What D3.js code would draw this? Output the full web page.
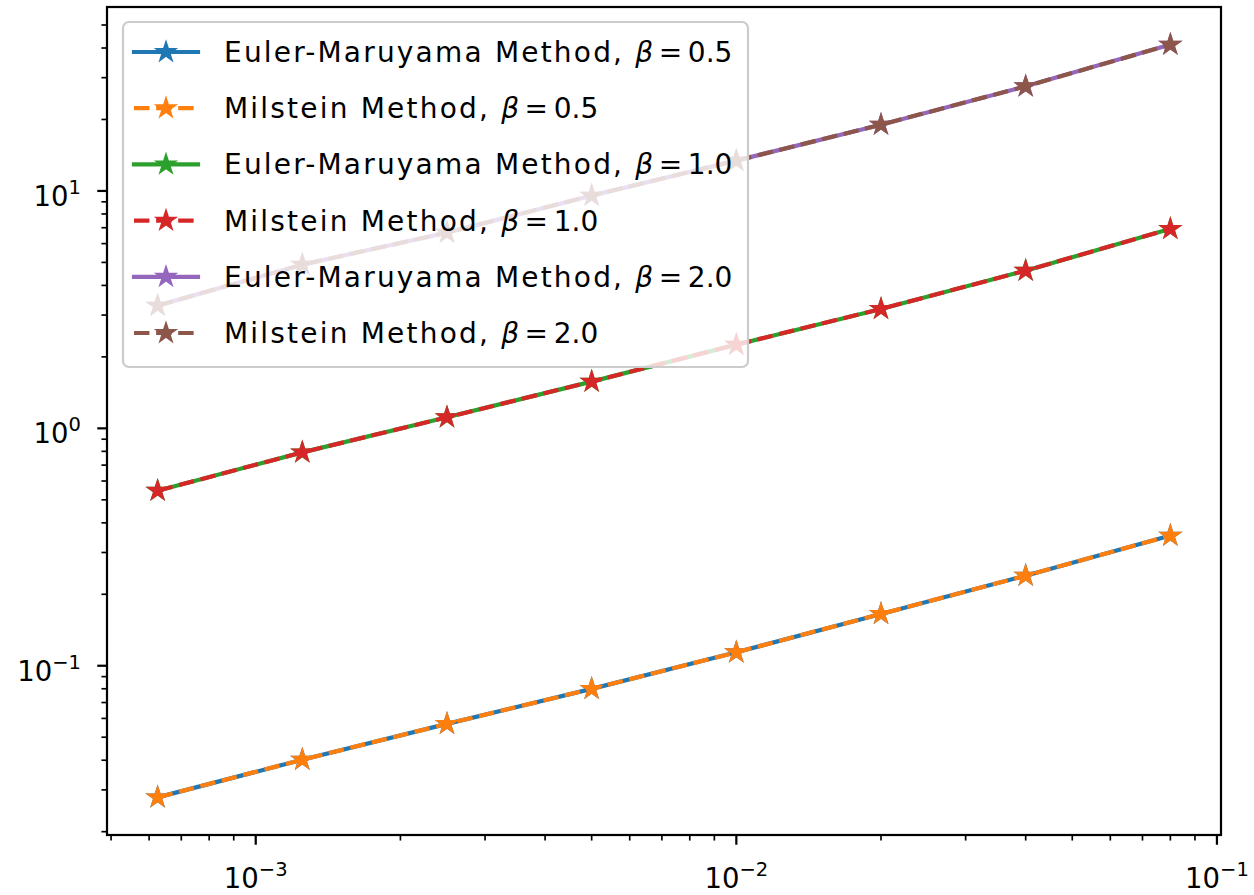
<!DOCTYPE html>
<html><head><meta charset="utf-8">
<script src="https://cdn.jsdelivr.net/npm/d3@7"></script>
<style>body{margin:0;background:#fff} text{font-family:"DejaVu Sans",sans-serif;fill:#000}</style>
</head><body><svg id="c" width="1254" height="895"></svg>
<script>
// ---- data ----
const stepSizes = [0.000625, 0.00125, 0.0025, 0.005, 0.01, 0.02, 0.04, 0.08];
const emBeta05  = [0.0279, 0.0402, 0.0569, 0.0799, 0.1139, 0.1653, 0.2396, 0.3532];
const milBeta05 = [0.0279, 0.0402, 0.0569, 0.0799, 0.1139, 0.1653, 0.2396, 0.3532];
const emBeta10  = [0.546, 0.792, 1.113, 1.573, 2.252, 3.184, 4.616, 6.918];
const milBeta10 = [0.546, 0.792, 1.113, 1.573, 2.252, 3.184, 4.616, 6.918];
const emBeta20  = [3.288, 4.893, 6.674, 9.554, 13.42, 19.02, 27.58, 41.33];
const milBeta20 = [3.288, 4.893, 6.674, 9.554, 13.42, 19.02, 27.58, 41.33];
const methodNames = ["Euler-Maruyama Method", "Milstein Method", "Euler-Maruyama Method", "Milstein Method", "Euler-Maruyama Method", "Milstein Method"];
const betaLabels = ["0.5", "0.5", "1.0", "1.0", "2.0", "2.0"];
const xTickValues = [1e-3, 1e-2, 1e-1];
const xTickExponents = ["\u22123", "\u22122", "\u22121"];
const yTickValues = [1e-1, 1, 10];
const yTickExponents = ["\u22121", "0", "1"];

const seriesValues = [emBeta05, milBeta05, emBeta10, milBeta10, emBeta20, milBeta20];
const colors = ["#1f77b4", "#ff7f0e", "#2ca02c", "#d62728", "#9467bd", "#8c564b"];
const dashed = [false, true, false, true, false, true];

// ---- layout ----
const PT = 2.78;
const L = 107, R = 1221, T = 7, B = 835;
const svg = d3.select("#c");

function logDomain(vals) {
  const lo = Math.log10(d3.min(vals)), hi = Math.log10(d3.max(vals));
  const m = (hi - lo) * 0.05;
  return [Math.pow(10, lo - m), Math.pow(10, hi + m)];
}
const x = d3.scaleLog().domain(logDomain(stepSizes)).range([L, R]);
const y = d3.scaleLog().domain(logDomain(seriesValues.flat())).range([B, T]);

function minorTicks(scale) {
  const [a, b] = scale.domain();
  const out = [];
  for (let k = Math.floor(Math.log10(a)); k <= Math.ceil(Math.log10(b)); k++) {
    for (let m = 2; m <= 9; m++) {
      const v = m * Math.pow(10, k);
      if (v >= a && v <= b) out.push(v);
    }
  }
  return out;
}

function starPath(Ro) {
  const ri = Ro * 0.381966;
  const p = [];
  for (let i = 0; i < 10; i++) {
    const ang = -Math.PI / 2 + i * Math.PI / 5;
    const rr = i % 2 ? ri : Ro;
    p.push([rr * Math.cos(ang), rr * Math.sin(ang)]);
  }
  return "M" + p.map(d => d[0].toFixed(2) + "," + d[1].toFixed(2)).join("L") + "Z";
}
const star = starPath(3 * PT);

// ---- series ----
const line = d3.line().x((d, i) => x(stepSizes[i])).y(d => y(d));
const gData = svg.append("g");
seriesValues.forEach((vals, s) => {
  gData.append("path")
    .attr("d", line(vals))
    .attr("fill", "none")
    .attr("stroke", colors[s])
    .attr("stroke-width", 1.5 * PT)
    .attr("stroke-linejoin", "round")
    .attr("stroke-linecap", dashed[s] ? "butt" : "square")
    .attr("stroke-dasharray", dashed[s] ? `${3.7 * 1.5 * PT},${1.6 * 1.5 * PT}` : null);
  vals.forEach((v, i) => {
    gData.append("path")
      .attr("d", star)
      .attr("transform", `translate(${x(stepSizes[i])},${y(v)})`)
      .attr("fill", colors[s])
      .attr("stroke", colors[s])
      .attr("stroke-width", 1 * PT)
      .attr("stroke-linejoin", "miter");
  });
});

// ---- axes ----
const gAx = svg.append("g");
gAx.append("rect").attr("x", L).attr("y", T).attr("width", R - L).attr("height", B - T)
  .attr("fill", "none").attr("stroke", "#000").attr("stroke-width", 0.8 * PT);

xTickValues.forEach((v, i) => {
  const px = x(v);
  gAx.append("line").attr("x1", px).attr("x2", px).attr("y1", B).attr("y2", B + 3.5 * PT)
    .attr("stroke", "#000").attr("stroke-width", 0.8 * PT);
  const t = gAx.append("text").attr("x", px).attr("y", 888).attr("text-anchor", "middle")
    .attr("font-size", 27.5);
  t.append("tspan").text("10");
  t.append("tspan").attr("font-size", 19.5).attr("dy", -12).text(xTickExponents[i]);
});
minorTicks(x).forEach(v => {
  const px = x(v);
  gAx.append("line").attr("x1", px).attr("x2", px).attr("y1", B).attr("y2", B + 2 * PT)
    .attr("stroke", "#000").attr("stroke-width", 0.6 * PT);
});
yTickValues.forEach((v, i) => {
  const py = y(v);
  gAx.append("line").attr("x1", L).attr("x2", L - 3.5 * PT).attr("y1", py).attr("y2", py)
    .attr("stroke", "#000").attr("stroke-width", 0.8 * PT);
  const t = gAx.append("text").attr("x", 81).attr("y", py + 15).attr("text-anchor", "end")
    .attr("font-size", 27.5);
  t.append("tspan").text("10");
  t.append("tspan").attr("font-size", 19.5).attr("dy", -12).text(yTickExponents[i]);
});
minorTicks(y).forEach(v => {
  const py = y(v);
  gAx.append("line").attr("x1", L).attr("x2", L - 2 * PT).attr("y1", py).attr("y2", py)
    .attr("stroke", "#000").attr("stroke-width", 0.6 * PT);
});

// ---- legend ----
const gLeg = svg.append("g");
gLeg.append("rect").attr("x", 123).attr("y", 22).attr("width", 625).attr("height", 345)
  .attr("rx", 6).attr("ry", 6)
  .attr("fill", "#fff").attr("fill-opacity", 0.8)
  .attr("stroke", "#cccccc").attr("stroke-width", 0.8 * PT);
methodNames.forEach((name, s) => {
  const cy = 52 + s * 56.2;
  gLeg.append("line").attr("x1", 134).attr("x2", 198).attr("y1", cy).attr("y2", cy)
    .attr("stroke", colors[s]).attr("stroke-width", 1.5 * PT)
    .attr("stroke-linecap", dashed[s] ? "butt" : "square")
    .attr("stroke-dasharray", dashed[s] ? `${3.7 * 1.5 * PT},${1.6 * 1.5 * PT}` : null);
  gLeg.append("path").attr("d", star).attr("transform", `translate(166,${cy})`)
    .attr("fill", colors[s]).attr("stroke", colors[s]).attr("stroke-width", 1 * PT);
  const t = gLeg.append("text").attr("x", 224).attr("y", cy + 10).attr("font-size", 28);
  t.append("tspan").attr("letter-spacing", 2.2).text(name + ", ");
  t.append("tspan").attr("font-style", "italic").text("\u03b2");
  t.append("tspan").text("\u2009=\u2009" + betaLabels[s]);
});
</script>
</body></html>
